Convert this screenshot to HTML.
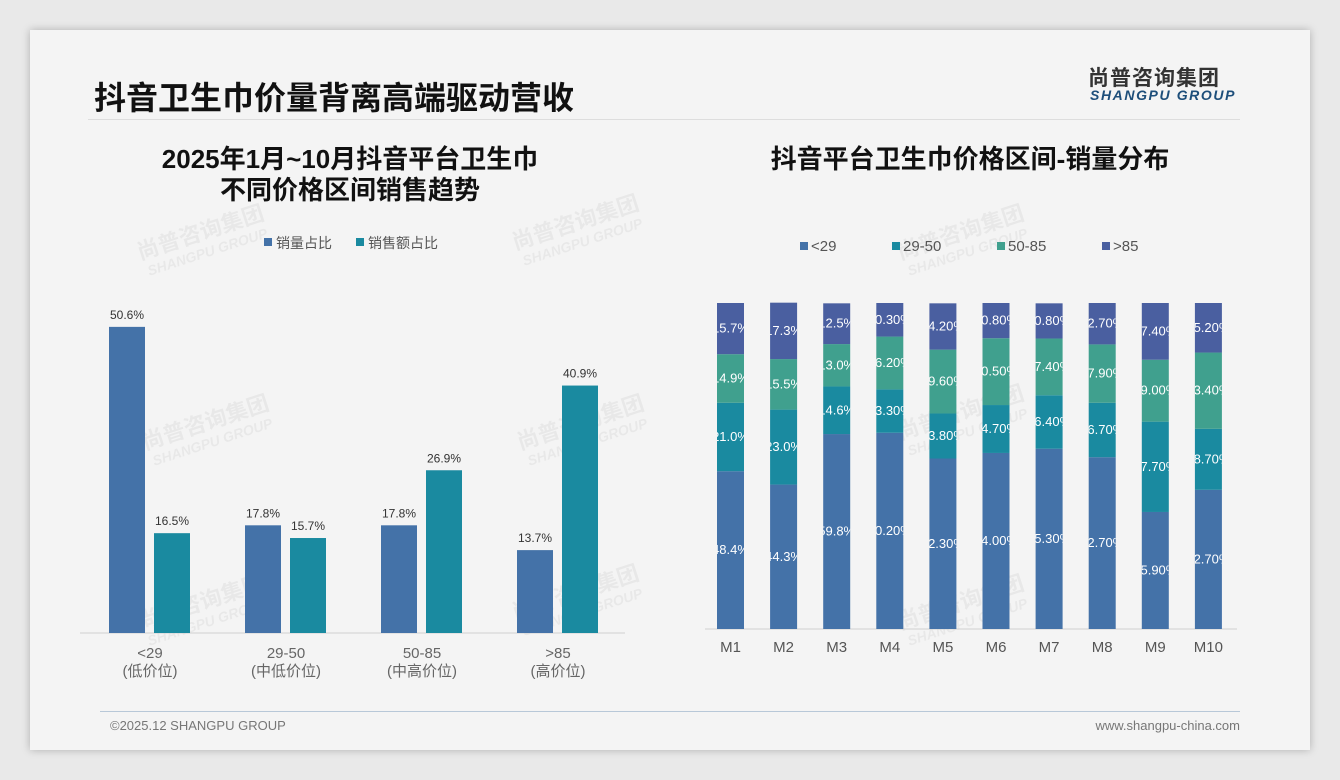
<!DOCTYPE html>
<html><head><meta charset="utf-8">
<style>
body{margin:0;width:1340px;height:780px;background:#e9e9e9;font-family:"Liberation Sans","Noto Sans CJK SC",sans-serif;overflow:hidden}
#card{position:absolute;left:30px;top:30px;width:1280px;height:720px;background:#f4f4f4;box-shadow:0 0 8px rgba(0,0,0,.25)}
.abs{position:absolute}
</style></head><body>
<div id="card">
<div class="abs" style="left:64px;top:43px;font-size:32px;font-weight:bold;color:#111">抖音卫生巾价量背离高端驱动营收</div>
<div class="abs" style="left:58px;top:89px;width:1152px;height:1px;background:#ddd"></div>
<div class="abs" style="left:1058px;top:32px;font-size:21px;font-weight:bold;color:#333;letter-spacing:1px">尚普咨询集团</div>
<div class="abs" style="left:1060px;top:57px;font-size:14px;font-weight:bold;font-style:italic;color:#1d4e7a;letter-spacing:1.6px">SHANGPU GROUP</div>
<div class="abs" style="left:70px;top:114px;width:500px;text-align:center;font-size:26px;font-weight:bold;color:#111;line-height:31px">2025年1月~10月抖音平台卫生巾<br>不同价格区间销售趋势</div>
<div class="abs" style="left:690px;top:114px;width:500px;text-align:center;font-size:26px;font-weight:bold;color:#111;line-height:31px">抖音平台卫生巾价格区间-销量分布</div>
<div class="abs" style="left:70px;top:681px;width:1140px;height:1px;background:#b8c8d8"></div>
<div class="abs" style="left:80px;top:688px;font-size:13px;color:#777">©2025.12 SHANGPU GROUP</div>
<div class="abs" style="left:1030px;top:688px;width:180px;text-align:right;font-size:13px;color:#777">www.shangpu-china.com</div>
</div>
<svg id="chart" class="abs" style="left:0;top:0" width="1340" height="780"></svg>
<script>
const leftCats=["<29","29-50","50-85",">85"];
const leftSub=["(低价位)","(中低价位)","(中高价位)","(高价位)"];
const volShare=[50.6,17.8,17.8,13.7];
const salesShare=[16.5,15.7,26.9,40.9];
const months=["M1","M2","M3","M4","M5","M6","M7","M8","M9","M10"];
const s29=[48.4,44.3,59.8,60.2,52.3,54.0,55.3,52.7,35.9,42.7];
const s2950=[21.0,23.0,14.6,13.3,13.8,14.7,16.4,16.7,27.7,18.7];
const s5085=[14.9,15.5,13.0,16.2,19.6,20.5,17.4,17.9,19.0,23.4];
const s85=[15.7,17.3,12.5,10.3,14.2,10.8,10.8,12.7,17.4,15.2];
const lab29=["48.4%","44.3%","59.8%","60.20%","52.30%","54.00%","55.30%","52.70%","35.90%","42.70%"];
const lab2950=["21.0%","23.0%","14.6%","13.30%","13.80%","14.70%","16.40%","16.70%","27.70%","18.70%"];
const lab5085=["14.9%","15.5%","13.0%","16.20%","19.60%","20.50%","17.40%","17.90%","19.00%","23.40%"];
const lab85=["15.7%","17.3%","12.5%","10.30%","14.20%","10.80%","10.80%","12.70%","17.40%","15.20%"];

const svg=document.getElementById('chart');const NS="http://www.w3.org/2000/svg";
function mk(t,a,p){const e=document.createElementNS(NS,t);for(const k in a)e.setAttribute(k,a[k]);(p||svg).appendChild(e);return e;}
function txt(x,y,s,a,p){const e=mk('text',Object.assign({x:x,y:y,'font-family':'Liberation Sans, Noto Sans CJK SC, sans-serif'},a),p);e.textContent=s;return e;}
[[140,260],[515,250],[145,450],[520,450],[140,630],[515,620],[900,260],[900,440],[900,630]].forEach(([x,y])=>{
 const g=mk('g',{transform:`translate(${x},${y}) rotate(-18)`,opacity:0.045});
 
 txt(0,0,"尚普咨询集团",{'font-size':22,'font-weight':'bold',fill:'#000'},g);
 txt(4,18,"SHANGPU GROUP",{'font-size':14,'font-weight':'bold','font-style':'italic',fill:'#000'},g);
});
const LB=633,LS=6.05,lx0=150,lstep=136;
const ly=v=>LB-v*LS, lx=i=>lx0+i*lstep;
let e=mk('line',{x1:80,x2:625,y1:LB,y2:LB,stroke:'#d0d0d0'});

e=mk('rect',{x:264,y:238,width:8,height:8,fill:'#4472a8'});
txt(276,248,"销量占比",{'font-size':14,fill:'#555'});
e=mk('rect',{x:356,y:238,width:8,height:8,fill:'#1a8aa0'});
txt(368,248,"销售额占比",{'font-size':14,fill:'#555'});
leftCats.forEach((c,i)=>{
 const cx=lx(i);
 let r=mk('rect',{x:cx-41,y:ly(volShare[i]),width:36,height:volShare[i]*LS,fill:'#4472a8'});
 
 txt(cx-23,ly(volShare[i])-8,volShare[i].toFixed(1)+"%",{'font-size':12,fill:'#333','text-anchor':'middle'});
 r=mk('rect',{x:cx+4,y:ly(salesShare[i]),width:36,height:salesShare[i]*LS,fill:'#1a8aa0'});
 
 txt(cx+22,ly(salesShare[i])-8,salesShare[i].toFixed(1)+"%",{'font-size':12,fill:'#333','text-anchor':'middle'});
 txt(cx,658,c,{'font-size':15,fill:'#666','text-anchor':'middle'});
 txt(cx,676,leftSub[i],{'font-size':15,fill:'#666','text-anchor':'middle'});
});
const RB=629,RH=3.26,rx0=730.5,rstep=53.1,bw=27;
const rx=i=>rx0+i*rstep;
e=mk('line',{x1:705,x2:1237,y1:RB,y2:RB,stroke:'#d0d0d0'});

const series=[[s29,lab29,'#4472a8','<29'],[s2950,lab2950,'#1a8aa0','29-50'],[s5085,lab5085,'#40a08e','50-85'],[s85,lab85,'#4a5fa0','>85']];
const legX=[800,892,997,1102];
series.forEach((s,k)=>{
 const r=mk('rect',{x:legX[k],y:242,width:8,height:8,fill:s[2]});
 
 txt(legX[k]+11,251,s[3],{'font-size':15,fill:'#555'});
});
const defs=mk('defs',{});
months.forEach((m,i)=>{
 const cx=rx(i);
 const cp=mk('clipPath',{id:'c'+i},defs);mk('rect',{x:cx-bw/2,y:0,width:bw,height:780},cp);
 let acc=0;
 series.forEach((s,k)=>{
  const v=s[0][i];const y=RB-(acc+v)*RH;
  const r=mk('rect',{x:cx-bw/2,y:y,width:bw,height:v*RH,fill:s[2]});
  
  txt(cx,y+v*RH/2+4,s[1][i],{'font-size':13,fill:'#fff','text-anchor':'middle','clip-path':`url(#c${i})`});
  acc+=v;
 });
 txt(cx,652,m,{'font-size':15,fill:'#555','text-anchor':'middle'});
});
</script>
</body></html>
